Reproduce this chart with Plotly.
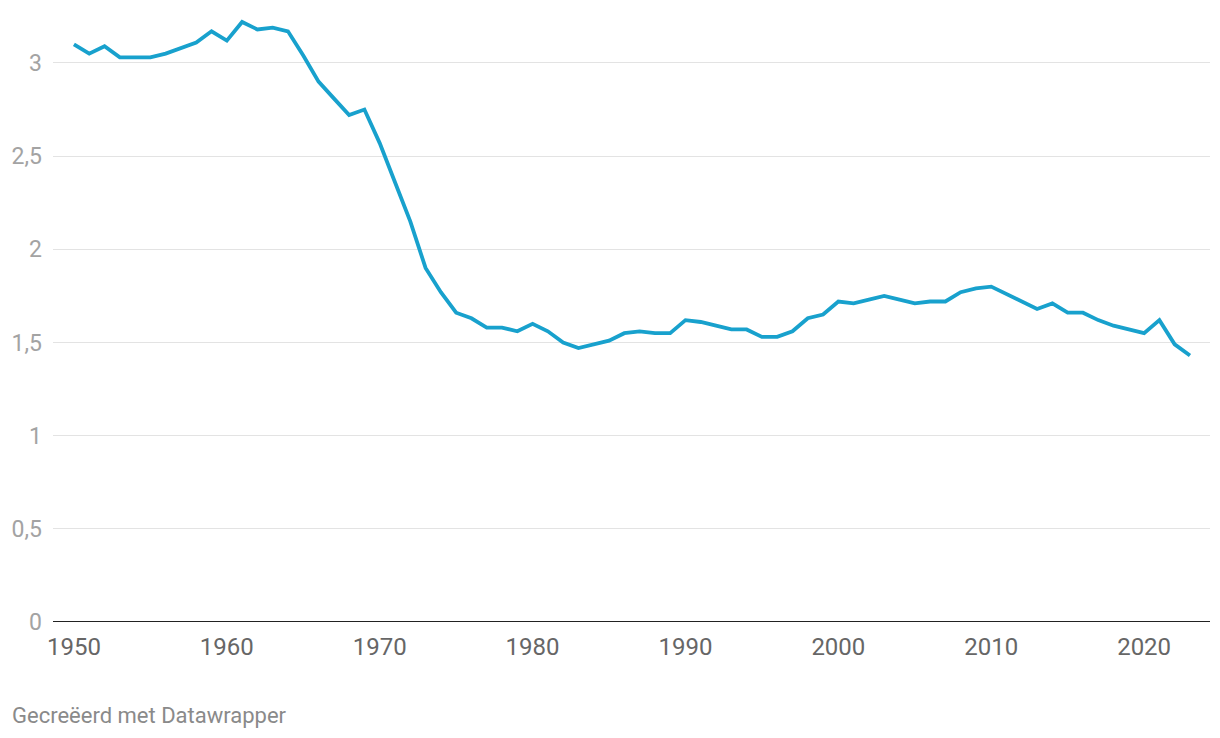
import plotly.graph_objects as go

years = list(range(1950, 2024))
tfr = [3.10, 3.05, 3.09, 3.03, 3.03, 3.03, 3.05, 3.08, 3.11, 3.17,
       3.12, 3.22, 3.18, 3.19, 3.17, 3.04, 2.90, 2.81, 2.72, 2.75,
       2.57, 2.36, 2.15, 1.90, 1.77, 1.66, 1.63, 1.58, 1.58, 1.56,
       1.60, 1.56, 1.50, 1.47, 1.49, 1.51, 1.55, 1.56, 1.55, 1.55,
       1.62, 1.61, 1.59, 1.57, 1.57, 1.53, 1.53, 1.56, 1.63, 1.65,
       1.72, 1.71, 1.73, 1.75, 1.73, 1.71, 1.72, 1.72, 1.77, 1.79,
       1.80, 1.76, 1.72, 1.68, 1.71, 1.66, 1.66, 1.62, 1.59, 1.57,
       1.55, 1.62, 1.49, 1.43]
x_ticks = [1950, 1960, 1970, 1980, 1990, 2000, 2010, 2020]
y_ticks = [0, 0.5, 1, 1.5, 2, 2.5, 3]
footer = "Gecreëerd met Datawrapper"

fig = go.Figure()
fig.add_trace(go.Scatter(
    x=years, y=tfr, mode="lines",
    line=dict(color="#18a1cd", width=3.8),
    hoverinfo="x+y", showlegend=False,
))

fig.update_layout(
    width=1212, height=730,
    margin=dict(l=45, r=10, t=0, b=116),
    paper_bgcolor="white", plot_bgcolor="white",
    separators=",.",
    font=dict(family="Roboto, sans-serif"),
    xaxis=dict(
        range=[1948.63, 2024.31],
        tickvals=x_ticks,
        showgrid=False, zeroline=False, showline=False,
        ticks="outside", ticklen=3, tickcolor="rgba(0,0,0,0)",
        tickfont=dict(size=24, color="#666666"),
        automargin=False,
        fixedrange=True,
    ),
    yaxis=dict(
        range=[0, 3.295],
        tickvals=y_ticks,
        showgrid=True, gridcolor="#e3e3e3", gridwidth=1,
        zeroline=False, showline=False,
        ticks="", ticklabelstandoff=10,
        tickfont=dict(size=23, color="#a3a3a3"),
        automargin=False,
        fixedrange=True,
    ),
    shapes=[dict(type="line", xref="paper", yref="y", x0=0, x1=1, y0=0, y1=0,
                 line=dict(color="#222222", width=2))],
    annotations=[dict(text=footer, xref="paper", yref="paper",
                      x=-43/1157, y=-93/614, xanchor="left", yanchor="middle",
                      showarrow=False, font=dict(size=22, color="#8a8a8a"))],
)

fig.write_html("out.html")
